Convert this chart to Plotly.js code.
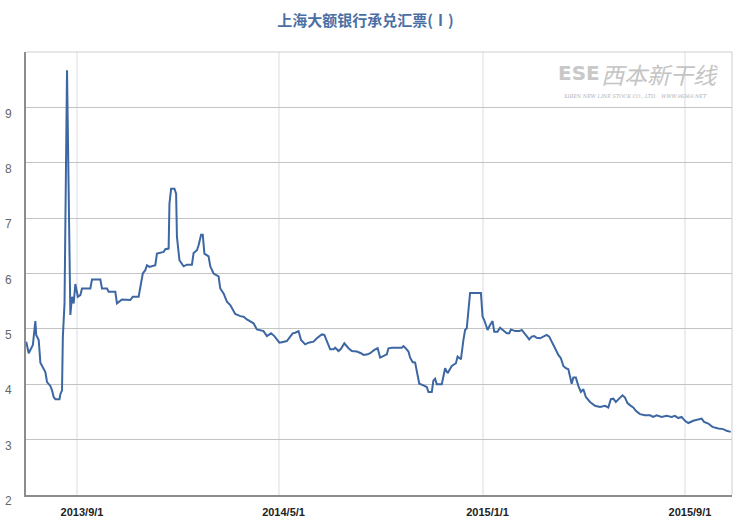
<!DOCTYPE html>
<html>
<head>
<meta charset="utf-8">
<script src="https://cdn.plot.ly/plotly-3.0.1.min.js"></script>
<style>html,body{margin:0;padding:0;background:#fff;}#chart{width:746px;height:521px;}</style>
</head>
<body>
<div id="chart"></div>
<script>
const dates = [
'2013-07-02','2013-07-05','2013-07-10','2013-07-13','2013-07-14','2013-07-17','2013-07-19','2013-07-23','2013-07-25','2013-07-27',
'2013-07-31','2013-08-02','2013-08-04','2013-08-06','2013-08-11','2013-08-12','2013-08-14','2013-08-15','2013-08-17','2013-08-20',
'2013-08-24','2013-08-26','2013-08-28','2013-08-30','2013-09-02','2013-09-05','2013-09-07','2013-09-17','2013-09-19','2013-09-29',
'2013-10-01','2013-10-07','2013-10-09','2013-10-17','2013-10-19','2013-10-25','2013-11-04','2013-11-07','2013-11-14','2013-11-16',
'2013-11-19','2013-11-22','2013-11-24','2013-11-27','2013-12-04','2013-12-06','2013-12-14','2013-12-16','2013-12-20','2013-12-21',
'2013-12-23','2013-12-27','2013-12-29','2013-12-30','2014-01-02','2014-01-07','2014-01-11','2014-01-17','2014-01-19','2014-01-23',
'2014-01-25','2014-01-28','2014-01-30','2014-02-01','2014-02-06','2014-02-08','2014-02-12','2014-02-18','2014-02-20','2014-02-24',
'2014-02-28','2014-03-04','2014-03-10','2014-03-16','2014-03-20','2014-03-24','2014-04-01','2014-04-05','2014-04-13','2014-04-17',
'2014-04-22','2014-04-26','2014-05-02','2014-05-05','2014-05-11','2014-05-15','2014-05-18','2014-05-21','2014-05-25','2014-05-28',
'2014-06-02','2014-06-06','2014-06-12','2014-06-16','2014-06-22','2014-06-25','2014-06-28','2014-07-02','2014-07-06','2014-07-08',
'2014-07-12','2014-07-15','2014-07-19','2014-07-24','2014-07-28','2014-08-03','2014-08-08','2014-08-11','2014-08-16','2014-08-19',
'2014-08-24','2014-08-28','2014-08-31','2014-09-04','2014-09-08','2014-09-10','2014-09-14','2014-09-26','2014-09-28','2014-09-30',
'2014-10-04','2014-10-06','2014-10-09','2014-10-12','2014-10-14','2014-10-17','2014-10-22','2014-10-26','2014-10-28','2014-11-01',
'2014-11-03','2014-11-05','2014-11-07','2014-11-13','2014-11-17','2014-11-20','2014-11-25','2014-11-30','2014-12-02','2014-12-06',
'2014-12-09','2014-12-11','2014-12-13','2014-12-17','2014-12-30','2015-01-01','2015-01-03','2015-01-07','2015-01-10','2015-01-13',
'2015-01-15','2015-01-19','2015-01-22','2015-01-25','2015-01-30','2015-02-02','2015-02-04','2015-02-09','2015-02-14','2015-02-17',
'2015-02-20','2015-02-23','2015-02-26','2015-03-01','2015-03-04','2015-03-07','2015-03-11','2015-03-15','2015-03-19','2015-03-22',
'2015-03-25','2015-03-29','2015-04-02','2015-04-05','2015-04-08','2015-04-11','2015-04-14','2015-04-16','2015-04-18','2015-04-20',
'2015-04-23','2015-04-26','2015-04-29','2015-05-02','2015-05-05','2015-05-10','2015-05-16','2015-05-22','2015-05-28','2015-06-01',
'2015-06-04','2015-06-07','2015-06-10','2015-06-14','2015-06-18','2015-06-21','2015-06-24','2015-06-28','2015-07-01','2015-07-04',
'2015-07-09','2015-07-15','2015-07-21','2015-07-25','2015-07-29','2015-08-04','2015-08-10','2015-08-16','2015-08-20','2015-08-24',
'2015-08-28','2015-09-01','2015-09-05','2015-09-11','2015-09-17','2015-09-21','2015-09-24','2015-09-29','2015-10-04','2015-10-11',
'2015-10-17','2015-10-21','2015-10-26'
];
const rates = [
4.77,4.56,4.71,5.14,4.89,4.80,4.39,4.29,4.22,4.04,
3.97,3.89,3.77,3.73,3.73,3.82,3.89,4.86,5.46,9.67,
5.25,5.58,5.46,5.81,5.58,5.61,5.73,5.73,5.89,5.89,
5.73,5.73,5.67,5.67,5.46,5.53,5.52,5.58,5.58,5.75,
6.00,6.06,6.15,6.12,6.15,6.36,6.39,6.44,6.45,7.26,
7.53,7.53,7.44,6.66,6.24,6.13,6.16,6.16,6.37,6.42,
6.51,6.70,6.70,6.36,6.31,6.13,6.00,5.95,5.73,5.64,
5.49,5.43,5.27,5.23,5.22,5.17,5.10,4.99,4.96,4.87,
4.92,4.87,4.75,4.76,4.78,4.86,4.92,4.93,4.96,4.80,
4.72,4.75,4.77,4.83,4.90,4.89,4.77,4.63,4.63,4.66,
4.60,4.64,4.74,4.65,4.60,4.59,4.56,4.53,4.54,4.56,
4.62,4.65,4.48,4.51,4.54,4.65,4.66,4.66,4.69,4.66,
4.59,4.48,4.40,4.39,4.25,4.01,3.98,3.95,3.86,3.86,
4.07,4.10,4.00,4.00,4.29,4.20,4.33,4.38,4.50,4.45,
4.80,4.98,5.01,5.65,5.65,5.22,5.16,4.98,5.07,5.14,
4.95,4.95,5.02,4.98,4.92,4.92,4.99,4.96,4.96,4.98,
4.93,4.87,4.81,4.86,4.87,4.84,4.83,4.86,4.89,4.86,
4.78,4.65,4.53,4.47,4.33,4.29,4.27,4.15,4.01,4.12,
4.12,3.97,3.86,3.91,3.77,3.68,3.61,3.59,3.61,3.58,
3.73,3.74,3.68,3.74,3.80,3.76,3.66,3.61,3.58,3.52,
3.46,3.44,3.44,3.41,3.44,3.41,3.43,3.41,3.43,3.39,
3.41,3.34,3.30,3.34,3.37,3.38,3.32,3.29,3.23,3.20,
3.19,3.16,3.14
];
const xTickVals = ['2013-09-01','2014-05-01','2015-01-01','2015-09-01'];
const xTickText = ['2013/9/1','2014/5/1','2015/1/1','2015/9/1'];
const yTickVals = [2,3,4,5,6,7,8,9];
const chartTitle = '上海大额银行承兑汇票(Ⅰ)';

const trace = {
  x: dates, y: rates, type: 'scatter', mode: 'lines',
  line: {color: '#3d67a3', width: 2, shape: 'linear'},
  hoverinfo: 'x+y'
};

const layout = {
  width: 746, height: 521,
  margin: {l: 26, r: 14, t: 52, b: 26, pad: 0},
  paper_bgcolor: '#ffffff', plot_bgcolor: '#ffffff',
  showlegend: false,
  title: {text: '<b>' + chartTitle + '</b>', x: 0.49, xanchor: 'center', y: 0.96, yanchor: 'middle',
          font: {family: 'Noto Sans CJK SC, sans-serif', size: 15, color: '#4a6fa5'}},
  xaxis: {
    type: 'date', range: ['2013-07-01 18:00', '2015-10-27 12:00'],
    tickvals: xTickVals, ticktext: xTickText, ticks: '', ticklabelshift: 5, ticklabelstandoff: 6,
    showgrid: true, gridcolor: '#eceef3', gridwidth: 2,
    showline: true, linecolor: '#8c8c8c', linewidth: 2, zeroline: false,
    tickfont: {family: 'Liberation Sans, Arial, sans-serif', size: 11, color: '#222', weight: 'bold'},
    fixedrange: true
  },
  yaxis: {
    range: [2, 10], tickvals: yTickVals, ticks: '', ticklabelshift: 6, ticklabelstandoff: 10,
    showgrid: true, gridcolor: '#c4c4c4', gridwidth: 1,
    showline: true, linecolor: '#8c8c8c', linewidth: 2, zeroline: false,
    tickfont: {family: 'Liberation Sans, Arial, sans-serif', size: 12, color: '#666'},
    fixedrange: true
  },
  shapes: [
    {type: 'line', xref: 'paper', yref: 'paper', x0: 0, x1: 1, y0: 1, y1: 1, line: {color: '#cfcfcf', width: 1}},
    {type: 'line', xref: 'paper', yref: 'paper', x0: 1, x1: 1, y0: 0, y1: 1, line: {color: '#cfcfcf', width: 1}}
  ],
  annotations: [
    {xref: 'paper', yref: 'paper', x: 0.898, y: 0.95, xanchor: 'center', yanchor: 'middle', showarrow: false,
     text: '<i>西本新干线</i>', font: {family: 'Noto Sans CJK SC, sans-serif', size: 23, color: '#c4c4c4'}},
    {xref: 'paper', yref: 'paper', x: 0.783, y: 0.952, xanchor: 'center', yanchor: 'middle', showarrow: false,
     text: '<b>ESE</b>', font: {family: 'DejaVu Sans, sans-serif', size: 20, color: '#c8c8c8'}},
    {xref: 'paper', yref: 'paper', x: 0.862, y: 0.9, xanchor: 'center', yanchor: 'middle', showarrow: false,
     text: '<i>XIBEN NEW LINE STOCK CO., LTD.   WWW.96369.NET</i>', font: {family: 'DejaVu Serif, serif', size: 5, color: '#b0b0b0'}}
  ]
};

Plotly.newPlot('chart', [trace], layout, {displayModeBar: false, staticPlot: true});
</script>
</body>
</html>
